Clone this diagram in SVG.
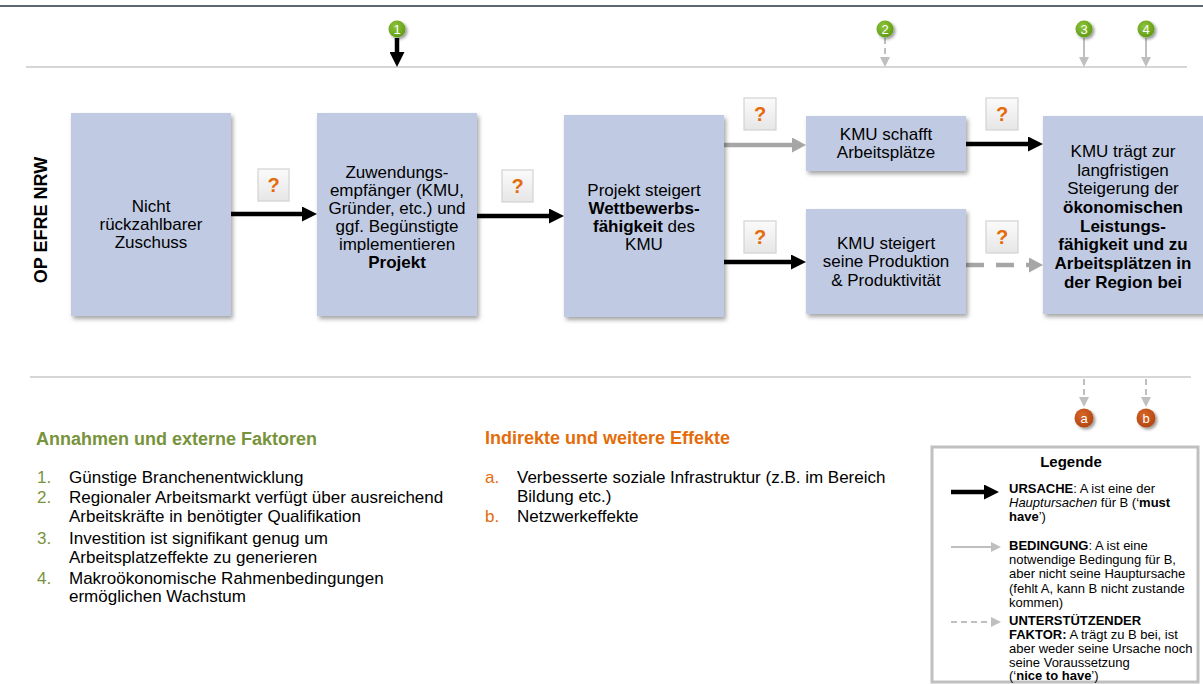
<svg xmlns="http://www.w3.org/2000/svg" width="1203" height="684" viewBox="0 0 1203 684">
<defs>
<style>
text{font-family:"Liberation Sans",Arial,sans-serif;fill:#000}
.nt{font-size:17px;text-anchor:middle}
.b{font-weight:bold}
.box{fill:#c0cbe3;filter:url(#sh)}
.q rect{fill:url(#qg);stroke:#d3d3d3;stroke-width:1.2}
.q text{font-size:20px;font-weight:bold;fill:#e46c0a;text-anchor:middle}
.blk{stroke:#000;stroke-width:4.5;fill:none;marker-end:url(#hb)}
.gry{stroke:#a6a6a6;stroke-width:4.5;fill:none;marker-end:url(#hg)}
.gdash{stroke:#a6a6a6;stroke-width:4.5;fill:none;stroke-dasharray:18 12;marker-end:url(#hg)}
.thin{stroke:#bfbfbf;stroke-width:2;fill:none;marker-end:url(#ht)}
.thind{stroke:#bfbfbf;stroke-width:2;fill:none;stroke-dasharray:6 4;marker-end:url(#ht)}
.sep{stroke:#c8c8c8;stroke-width:1.5}
.mk{font-size:13px;fill:#fff;text-anchor:middle}
.li{font-size:17px}
.lg{font-size:13px}
</style>
<filter id="sh" x="-10%" y="-10%" width="130%" height="130%"><feDropShadow dx="2" dy="3" stdDeviation="2" flood-color="#000" flood-opacity="0.35"/></filter>
<filter id="sh2" x="-50%" y="-50%" width="200%" height="200%"><feDropShadow dx="2" dy="2" stdDeviation="1.5" flood-color="#000" flood-opacity="0.4"/></filter>
<linearGradient id="qg" x1="0" y1="0" x2="0" y2="1"><stop offset="0" stop-color="#fbfbfb"/><stop offset="1" stop-color="#e6e6e6"/></linearGradient>
<radialGradient id="gg" cx="0.4" cy="0.35" r="0.7"><stop offset="0" stop-color="#8fc43a"/><stop offset="1" stop-color="#5e9a14"/></radialGradient>
<radialGradient id="og" cx="0.4" cy="0.35" r="0.7"><stop offset="0" stop-color="#d8652a"/><stop offset="1" stop-color="#b04510"/></radialGradient>
<marker id="hb" markerUnits="userSpaceOnUse" markerWidth="15" markerHeight="15" refX="5" refY="7.5" orient="auto"><path d="M0,0 L15,7.5 L0,15 z" fill="#000"/></marker>
<marker id="hg" markerUnits="userSpaceOnUse" markerWidth="14" markerHeight="15" refX="4" refY="7.5" orient="auto"><path d="M0,0 L14,7.5 L0,15 z" fill="#a6a6a6"/></marker>
<marker id="ht" markerUnits="userSpaceOnUse" markerWidth="10" markerHeight="10" refX="4" refY="5" orient="auto"><path d="M0,0 L10,5 L0,10 z" fill="#bfbfbf"/></marker>
</defs>
<rect width="1203" height="684" fill="#fff"/>
<line x1="0" y1="6" x2="1203" y2="6" stroke="#5d6870" stroke-width="2"/>
<line class="sep" x1="26" y1="67" x2="1187" y2="67"/>
<line class="sep" x1="30" y1="377" x2="1191" y2="377"/>
<text class="b" font-size="18" transform="translate(47,220) rotate(-90)" text-anchor="middle">OP EFRE NRW</text>

<g id="connectors">
<line class="blk" x1="231" y1="214" x2="307" y2="214"/>
<line class="blk" x1="477" y1="216" x2="554" y2="216"/>
<line class="gry" x1="724" y1="145" x2="796" y2="145"/>
<line class="blk" x1="724" y1="262" x2="796" y2="262"/>
<line class="blk" x1="966" y1="144" x2="1033" y2="144"/>
<line class="gdash" x1="966" y1="265" x2="1033" y2="265"/>
<line class="blk" x1="397" y1="38" x2="397" y2="57"/>
<line class="thind" x1="885" y1="38" x2="885" y2="61"/>
<line class="thin" x1="1084" y1="38" x2="1084" y2="61"/>
<line class="thin" x1="1146" y1="38" x2="1146" y2="61"/>
<line class="thind" x1="1084" y1="379" x2="1084" y2="401"/>
<line class="thind" x1="1146" y1="379" x2="1146" y2="401"/>
</g>

<g id="n1"><rect class="box" x="71" y="113" width="160" height="203"/>
<text class="nt"><tspan x="151" y="212">Nicht</tspan><tspan x="151" y="230">rückzahlbarer</tspan><tspan x="151" y="248">Zuschuss</tspan></text></g>
<g id="n2"><rect class="box" x="317" y="113" width="160" height="203"/>
<text class="nt"><tspan x="397" y="178">Zuwendungs-</tspan><tspan x="397" y="196">empfänger (KMU,</tspan><tspan x="397" y="214">Gründer, etc.) und</tspan><tspan x="397" y="232">ggf. Begünstigte</tspan><tspan x="397" y="250">implementieren</tspan><tspan x="397" y="268" class="b">Projekt</tspan></text></g>
<g id="n3"><rect class="box" x="564" y="115" width="160" height="202"/>
<text class="nt"><tspan x="644" y="196">Projekt steigert</tspan><tspan x="644" y="214" class="b">Wettbewerbs-</tspan><tspan x="644" y="232"><tspan class="b">fähigkeit</tspan> des</tspan><tspan x="644" y="250">KMU</tspan></text></g>
<g id="n4"><rect class="box" x="806" y="116" width="160" height="55"/>
<text class="nt"><tspan x="886" y="139.5">KMU schafft</tspan><tspan x="886" y="157.5">Arbeitsplätze</tspan></text></g>
<g id="n5"><rect class="box" x="806" y="209" width="160" height="105"/>
<text class="nt"><tspan x="886" y="248.5">KMU steigert</tspan><tspan x="886" y="267">seine Produktion</tspan><tspan x="886" y="285.5">&amp; Produktivität</tspan></text></g>
<g id="n6"><rect class="box" x="1043" y="116" width="162" height="198"/>
<text class="nt"><tspan x="1123" y="157">KMU trägt zur</tspan><tspan x="1123" y="175.5">langfristigen</tspan><tspan x="1123" y="194">Steigerung der</tspan><tspan x="1123" y="213" class="b">ökonomischen</tspan><tspan x="1123" y="231.5" class="b">Leistungs-</tspan><tspan x="1123" y="250" class="b">fähigkeit und zu</tspan><tspan x="1123" y="269" class="b">Arbeitsplätzen in</tspan><tspan x="1123" y="288" class="b">der Region bei</tspan></text></g>

<g id="q1" class="q"><rect x="258" y="169" width="31" height="32"/><text x="273.5" y="192">?</text></g>
<g id="q2" class="q"><rect x="502" y="170" width="31" height="32"/><text x="517.5" y="193">?</text></g>
<g id="q3" class="q"><rect x="744" y="98" width="32" height="32"/><text x="760" y="121">?</text></g>
<g id="q4" class="q"><rect x="986" y="98" width="32" height="32"/><text x="1002" y="121">?</text></g>
<g id="q5" class="q"><rect x="744" y="221" width="32" height="32"/><text x="760" y="244">?</text></g>
<g id="q6" class="q"><rect x="986" y="221" width="32" height="32"/><text x="1002" y="244">?</text></g>

<g id="m1"><circle cx="397" cy="29" r="8.5" fill="url(#gg)" filter="url(#sh2)"/><text class="mk" x="397" y="33.5">1</text></g>
<g id="m2"><circle cx="885" cy="29" r="8.5" fill="url(#gg)" filter="url(#sh2)"/><text class="mk" x="885" y="33.5">2</text></g>
<g id="m3"><circle cx="1084" cy="29" r="8.5" fill="url(#gg)" filter="url(#sh2)"/><text class="mk" x="1084" y="33.5">3</text></g>
<g id="m4"><circle cx="1146" cy="29" r="8.5" fill="url(#gg)" filter="url(#sh2)"/><text class="mk" x="1146" y="33.5">4</text></g>
<g id="ma"><circle cx="1084" cy="418" r="9.5" fill="url(#og)" filter="url(#sh2)"/><text class="mk" x="1084" y="423" font-size="15">a</text></g>
<g id="mb"><circle cx="1146" cy="418" r="9.5" fill="url(#og)" filter="url(#sh2)"/><text class="mk" x="1146" y="423" font-size="15">b</text></g>

<g id="annahmen">
<text x="36" y="445" font-size="18" class="b" style="fill:#77933c">Annahmen und externe Faktoren</text>
<g class="li">
<text x="37" y="483" style="fill:#77933c">1.</text><text x="69" y="483">Günstige Branchenentwicklung</text>
<text x="37" y="503" style="fill:#77933c">2.</text><text x="69" y="503">Regionaler Arbeitsmarkt verfügt über ausreichend</text>
<text x="69" y="522">Arbeitskräfte in benötigter Qualifikation</text>
<text x="37" y="544" style="fill:#77933c">3.</text><text x="69" y="544">Investition ist signifikant genug um</text>
<text x="69" y="563">Arbeitsplatzeffekte zu generieren</text>
<text x="37" y="584" style="fill:#77933c">4.</text><text x="69" y="584">Makroökonomische Rahmenbedingungen</text>
<text x="69" y="602">ermöglichen Wachstum</text>
</g></g>

<g id="effekte">
<text x="485" y="444" font-size="18" class="b" style="fill:#e46c0a">Indirekte und weitere Effekte</text>
<g class="li">
<text x="485" y="483" style="fill:#e46c0a">a.</text><text x="517" y="483">Verbesserte soziale Infrastruktur (z.B. im Bereich</text>
<text x="517" y="502">Bildung etc.)</text>
<text x="485" y="522" style="fill:#e46c0a">b.</text><text x="517" y="522">Netzwerkeffekte</text>
</g></g>

<g id="legende">
<rect x="932" y="447" width="266" height="235" fill="#fff" stroke="#c0c0c0" stroke-width="3"/>
<text x="1071" y="467" font-size="15" class="b" text-anchor="middle">Legende</text>
<line class="blk" x1="951" y1="492" x2="989" y2="492"/>
<line class="thin" x1="951" y1="547" x2="995" y2="547"/>
<line class="thind" x1="951" y1="622" x2="995" y2="622"/>
<text class="lg"><tspan x="1009" y="493"><tspan class="b">URSACHE</tspan>: A ist eine der</tspan><tspan x="1009" y="507"><tspan font-style="italic">Hauptursachen</tspan> für B (‘<tspan class="b">must</tspan></tspan><tspan x="1009" y="521"><tspan class="b">have</tspan>’)</tspan></text>
<text class="lg"><tspan x="1009" y="550"><tspan class="b">BEDINGUNG</tspan>: A ist eine</tspan><tspan x="1009" y="564">notwendige Bedingung für B,</tspan><tspan x="1009" y="578">aber nicht seine Hauptursache</tspan><tspan x="1009" y="593">(fehlt A, kann B nicht zustande</tspan><tspan x="1009" y="607">kommen)</tspan></text>
<text class="lg"><tspan x="1009" y="625" class="b">UNTERSTÜTZENDER</tspan><tspan x="1009" y="639"><tspan class="b">FAKTOR:</tspan> A trägt zu B bei, ist</tspan><tspan x="1009" y="653">aber weder seine Ursache noch</tspan><tspan x="1009" y="667">seine Voraussetzung</tspan><tspan x="1009" y="680">(‘<tspan class="b">nice to have</tspan>’)</tspan></text>
</g>
</svg>
